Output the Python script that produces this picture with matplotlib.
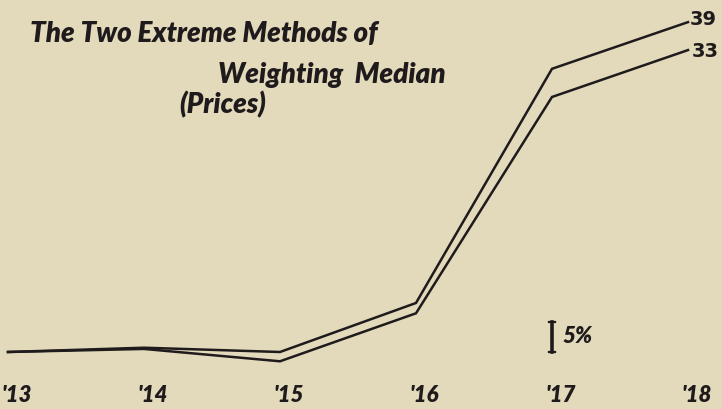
import numpy as np
import matplotlib.pyplot as plt
import matplotlib.transforms as mtransforms
from matplotlib import font_manager

# index numbers (1913 = 100)
years = [1913, 1914, 1915, 1916, 1917, 1918]
year_labels = ["'13", "'14", "'15", "'16", "'17", "'18"]
formula_39 = [100, 100.7, 100.0, 108.3, 158.5, 171.0]
formula_33 = [100, 100.5, 98.5, 106.5, 151.4, 163.4]
end_labels = ["39", "33"]

bg = '#e3dabb'
ink = '#1f1b1c'

# a narrower face than DejaVu for the hand lettering
avail = {f.name for f in font_manager.fontManager.ttflist}
fam, k, wt = 'DejaVu Sans', 0.8, 'bold'
for name in ['Liberation Sans Narrow', 'DejaVu Sans Condensed', 'Lato']:
    if name in avail:
        fam, k, wt = name, 1.0, 'heavy'
        break

fig = plt.figure(figsize=(7.22, 4.09), dpi=100, facecolor=bg)
ax = fig.add_axes([0, 0, 1, 1], facecolor=bg)
ax.set_yscale('log')

# 5% per 30 px, baseline 100 at y=352 px
per_px = np.log10(1.05) / 30.0
ax.set_xlim(1913 - 8 / 136.0, 1918 + 34 / 136.0)
ax.set_ylim(10 ** (2 - 57 * per_px), 10 ** (2 + 352 * per_px))
ax.axis('off')

ax.plot(years, formula_39, color=ink, lw=1.8, solid_joinstyle='miter')
ax.plot(years, formula_33, color=ink, lw=1.8, solid_joinstyle='miter')

hand = dict(family=fam, weight=wt, style='italic', color=ink)

ax.text(years[-1] + 0.01, formula_39[-1] * 1.004, end_labels[0], fontsize=14,
        ha='left', va='center', family='DejaVu Sans', weight='bold', color=ink)
ax.text(years[-1] + 0.025, formula_33[-1] * 0.998, end_labels[1], fontsize=14,
        ha='left', va='center', family='DejaVu Sans', weight='bold', color=ink)

# year labels along the bottom
trans = mtransforms.blended_transform_factory(ax.transData, ax.transAxes)
for x, lab in zip(years, year_labels):
    ax.text(x + 0.06, 0.032, lab, transform=trans, fontsize=16 * k,
            ha='center', va='center', **hand)

# 5% scale bar
ax.plot([1917.0, 1917.0], [100, 105], color=ink, lw=2.6)
ax.plot([1916.975, 1917.025], [105, 105], color=ink, lw=1.6)
ax.plot([1916.975, 1917.025], [100, 100], color=ink, lw=1.6)
ax.text(1917.08, 102.6, '5%', fontsize=16 * k, ha='left', va='center', **hand)

# title
ax.text(30 / 722, 1 - 34 / 409, 'The Two Extreme Methods of', transform=ax.transAxes,
        fontsize=20 * k, ha='left', va='center', **hand)
ax.text(218 / 722, 1 - 75 / 409, 'Weighting  Median', transform=ax.transAxes,
        fontsize=20 * k, ha='left', va='center', **hand)
ax.text(179 / 722, 1 - 105 / 409, '(Prices)', transform=ax.transAxes,
        fontsize=20 * k, ha='left', va='center', **hand)

fig.savefig('out.png', dpi=100, facecolor=bg)
